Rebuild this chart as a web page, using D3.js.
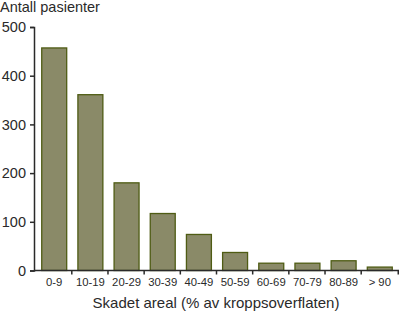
<!DOCTYPE html>
<html><head><meta charset="utf-8">
<script src="https://cdn.jsdelivr.net/npm/d3@7/dist/d3.min.js"></script>
<style>body{margin:0;background:#fff}svg{display:block}text{font-family:"Liberation Sans",Arial,sans-serif;fill:#2a2a2a}</style>
</head><body><div id="chart"></div>
<script>
const categories = ["0-9","10-19","20-29","30-39","40-49","50-59","60-69","70-79","80-89","> 90"];
const values = [457, 361, 180, 117, 74, 37, 15, 15, 20, 7];
const yTicks = [0, 100, 200, 300, 400, 500];
const yTitle = "Antall pasienter";
const xTitle = "Skadet areal (% av kroppsoverflaten)";

const W = 400, H = 311;
const m = {left: 34, right: 1, top: 27, bottom: 40.5};
const svg = d3.select("#chart").append("svg").attr("width", W).attr("height", H);

const x = d3.scaleBand().domain(categories).range([m.left, W - m.right]).paddingInner(0.31).paddingOuter(0.2);
const y = d3.scaleLinear().domain([0, 500]).range([H - m.bottom, m.top]);

// bars
svg.append("g").selectAll("rect").data(values).join("rect")
  .attr("x", (d, i) => x(categories[i]) + 0.5)
  .attr("y", d => y(d))
  .attr("width", x.bandwidth())
  .attr("height", d => y(0) - y(d))
  .attr("fill", "#8a8a68")
  .attr("stroke", "#4f5c14")
  .attr("stroke-width", 1.3);

// y axis
const ya = svg.append("g").attr("transform", `translate(${m.left},0)`)
  .call(d3.axisLeft(y).tickValues(yTicks).tickSize(4).tickPadding(4).tickFormat(d3.format("d")));
ya.select(".domain").attr("stroke", "#2a2a2a").attr("stroke-width", 1.5);
ya.selectAll(".tick line").attr("stroke", "#2a2a2a").attr("stroke-width", 1.5);
ya.selectAll(".tick text").attr("font-size", "14.5px").attr("fill", "#2a2a2a")
  .style("font-family", "'Liberation Sans', Arial, sans-serif");

// x axis: ticks between categories
const xa = svg.append("g").attr("transform", `translate(0,${y(0)})`);
xa.append("line").attr("x1", m.left).attr("x2", W - m.right).attr("y1", 0).attr("y2", 0)
  .attr("stroke", "#2a2a2a").attr("stroke-width", 1.5);
categories.forEach((c, i) => {
  if (i > 0) {
    const bx = x(c) - x.step() * x.paddingInner() / 2;
    xa.append("line").attr("x1", bx).attr("x2", bx).attr("y1", 0).attr("y2", 4)
      .attr("stroke", "#2a2a2a").attr("stroke-width", 1.5);
  }
  xa.append("text").attr("x", x(c) + x.bandwidth() / 2 + 0.5).attr("y", 15.5)
    .attr("text-anchor", "middle").attr("font-size", "11.3px").text(c);
});
const lastBx = W - m.right;
xa.append("line").attr("x1", lastBx - 0.75).attr("x2", lastBx - 0.75).attr("y1", 0).attr("y2", 4)
  .attr("stroke", "#2a2a2a").attr("stroke-width", 1.5);

// titles
svg.append("text").attr("x", 0).attr("y", 12).attr("font-size", "14.5px").text(yTitle);
svg.append("text").attr("x", 216).attr("y", 308).attr("text-anchor", "middle")
  .attr("font-size", "15px").text(xTitle);
</script></body></html>
